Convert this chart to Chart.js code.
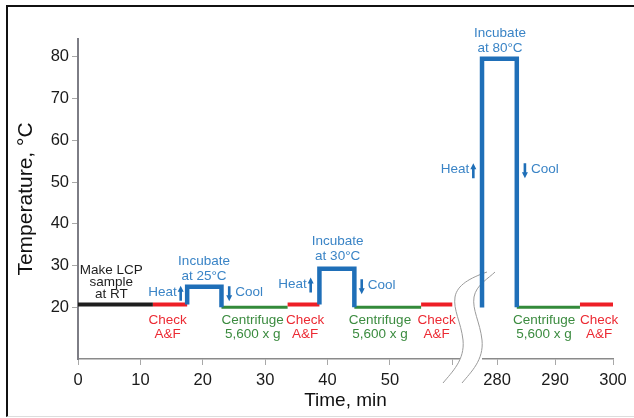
<!DOCTYPE html>
<html>
<head>
<meta charset="utf-8">
<script src="https://cdn.jsdelivr.net/npm/chart.js@4.4.0/dist/chart.umd.min.js"></script>
<style>
  html, body { margin:0; padding:0; background:#fff; }
  #wrap { position:relative; width:634px; height:418px; overflow:hidden; }
  #wrap canvas { position:absolute; left:0; top:0; }
  #frame { position:absolute; left:6px; top:5px; width:700px; height:409px;
           border-top:2px solid #111; border-left:2px solid #111; border-bottom:1px solid #ddd;
           pointer-events:none; }
</style>
</head>
<body>
<div id="wrap"><canvas id="chart" width="634" height="418"></canvas><div id="frame"></div></div>
<script>
// time in min, temperature in °C
const prepRuns  = [[0, 12]];
const checkRuns = [[12, 17.5], [33.6, 38.7], [55, 60], [294.3, 300]];
const spinRuns  = [[23, 33.6], [44.3, 55], [283.4, 294.3]];
const incubRuns = [[17.5, 23], [38.7, 44.3], [277.4, 283.4]];
const incubTemps = [25, 29.3, 79.5];
const incubStart = [20.7, 20.7, 20];
const roomTemp = 20.7;
const spinTemp = 20.1;

const timeTicks = [0, 10, 20, 30, 40, 50, 60, 280, 290, 300];
const tempTicks = [20, 30, 40, 50, 60, 70, 80];
const timeBreak = [63, 275.5];   // axis jumps from 63 to 275.5 min
const firstShare = 0.7346;       // part of the axis width used by 0..63

const BLUE = '#1f6fb8', BLUE_TXT = '#3a84c6';
const RED = '#ee1f26', RED_TXT = '#ec2a33';
const GREEN = '#338a3a', GREEN_TXT = '#3b8b3f';
const BLACK = '#1e1e1e';
const FONT = '"Liberation Sans", Arial, sans-serif';

// text labels, anchored in data units (first line centre)
const notes = [
  { lines: ['Make LCP', 'sample', 'at RT'], t: 5.34, temp: 28.98, color: BLACK, gap: 12.3 },
  { lines: ['Incubate', 'at 25°C'], t: 20.2, temp: 30.96, color: BLUE_TXT, gap: 14.4 },
  { lines: ['Incubate', 'at 30°C'], t: 41.63, temp: 35.74, color: BLUE_TXT, gap: 14.4 },
  { lines: ['Incubate', 'at 80°C'], t: 280.5, temp: 85.56, color: BLUE_TXT, gap: 15 },
  { lines: ['Check', 'A&F'], t: 14.38, temp: 16.9, color: RED_TXT, gap: 13.6 },
  { lines: ['Centrifuge', '5,600 x g'], t: 28.0, temp: 16.9, color: GREEN_TXT, gap: 13.6 },
  { lines: ['Check', 'A&F'], t: 36.39, temp: 16.9, color: RED_TXT, gap: 13.6 },
  { lines: ['Centrifuge', '5,600 x g'], t: 48.41, temp: 16.9, color: GREEN_TXT, gap: 13.6 },
  { lines: ['Check', 'A&F'], t: 57.5, temp: 16.9, color: RED_TXT, gap: 13.6 },
  { lines: ['Centrifuge', '5,600 x g'], t: 288.1, temp: 16.9, color: GREEN_TXT, gap: 13.6 },
  { lines: ['Check', 'A&F'], t: 297.6, temp: 16.9, color: RED_TXT, gap: 13.6 },
];
const arrows = [
  { dir: 'up', t: 16.46, temp: 23.4 }, { dir: 'down', t: 24.24, temp: 23.3 },
  { dir: 'up', t: 37.3, temp: 25.4 },  { dir: 'down', t: 45.48, temp: 25.0 },
  { dir: 'up', t: 275.9, temp: 52.7 }, { dir: 'down', t: 284.8, temp: 52.7 },
];

function flat(runs, temp){
  const pts = [];
  runs.forEach(([a, b]) => pts.push({x:a, y:temp}, {x:b, y:temp}, {x:b, y:null}));
  return pts;
}
function pulses(){
  const pts = [];
  incubRuns.forEach(([a, b], i) => {
    pts.push({x:a, y:incubStart[i]}, {x:a, y:incubTemps[i]}, {x:b, y:incubTemps[i]}, {x:b, y:spinTemp}, {x:b, y:null});
  });
  return pts;
}

// linear scale with a gap between timeBreak[0] and timeBreak[1]
class BrokenLinearScale extends Chart.LinearScale {
  _split(){ return this.left + (this.right - this.left) * firstShare; }
  getPixelForValue(v){
    if (v == null || isNaN(v)) return NaN;
    const s = this._split();
    if (v <= timeBreak[0]) return this.left + (v - this.min) / (timeBreak[0] - this.min) * (s - this.left);
    return s + (v - timeBreak[1]) / (this.max - timeBreak[1]) * (this.right - s);
  }
  getValueForPixel(p){
    const s = this._split();
    if (p <= s) return this.min + (p - this.left) / (s - this.left) * (timeBreak[0] - this.min);
    return timeBreak[1] + (p - s) / (this.right - s) * (this.max - timeBreak[1]);
  }
}
BrokenLinearScale.id = 'brokenLinear';
BrokenLinearScale.defaults = Chart.LinearScale.defaults;
Chart.register(BrokenLinearScale);

const breakMark = {
  id: 'breakMark',
  beforeDatasetsDraw(chart){
    const xs = chart.scales.x, ctx = chart.ctx;
    const sx = xs._split(), by = xs.top;
    ctx.save();
    ctx.fillStyle = '#fff';
    ctx.fillRect(sx - 11, by - 3, 22, 6);
    ctx.strokeStyle = '#9a9a9a'; ctx.lineWidth = 1;
    const curve = (o, top) => {
      ctx.beginPath();
      ctx.moveTo(sx - 28 + o, by + 24);
      ctx.bezierCurveTo(sx - 19 + o, by + 13, sx - 6 + o, by + 1, sx - 8 + o, by - 19);
      ctx.bezierCurveTo(sx - 10 + o, by - 37, sx - 18 + o, by - 49, sx - 16 + o, by - 62);
      ctx.bezierCurveTo(sx - 14 + o, by - 74, sx - 1 + o, by - 81, sx + top, by - 87);
      ctx.stroke();
    };
    curve(0, 16);
    curve(19, 24);
    ctx.restore();
  }
};

const notesPlugin = {
  id: 'notes',
  afterDraw(chart){
    const ctx = chart.ctx, xs = chart.scales.x, ys = chart.scales.y;
    ctx.save();
    ctx.font = '13.5px ' + FONT;
    ctx.textBaseline = 'middle';
    ctx.textAlign = 'center';
    notes.forEach(n => {
      const px = xs.getPixelForValue(n.t), py = ys.getPixelForValue(n.temp);
      ctx.fillStyle = n.color;
      n.lines.forEach((s, i) => ctx.fillText(s, px, py + i * n.gap));
    });
    arrows.forEach(a => {
      const px = xs.getPixelForValue(a.t), py = ys.getPixelForValue(a.temp);
      const h = 15, hw = 3, sw = 1.3, hh = 6;
      const dir = a.dir === 'up' ? -1 : 1;
      const tip = py + dir * h / 2, tail = py - dir * h / 2, neck = tip - dir * hh;
      ctx.fillStyle = BLUE;
      ctx.beginPath();
      ctx.moveTo(px, tip);
      ctx.lineTo(px + hw, neck);
      ctx.lineTo(px + sw, neck);
      ctx.lineTo(px + sw, tail);
      ctx.lineTo(px - sw, tail);
      ctx.lineTo(px - sw, neck);
      ctx.lineTo(px - hw, neck);
      ctx.closePath();
      ctx.fill();
      ctx.fillStyle = BLUE_TXT;
      if (a.dir === 'up') { ctx.textAlign = 'right'; ctx.fillText('Heat', px - 4, py - 1); }
      else { ctx.textAlign = 'left'; ctx.fillText('Cool', px + 6, py - 1); }
    });
    ctx.restore();
  }
};

const lineDs = (data, color, width) => ({
  data, borderColor: color, borderWidth: width, pointRadius: 0, tension: 0,
  spanGaps: false, fill: false, borderJoinStyle: 'miter', borderCapStyle: 'butt'
});

new Chart(document.getElementById('chart'), {
  type: 'line',
  data: {
    datasets: [
      lineDs(pulses(), BLUE, 4.5),
      lineDs(flat(prepRuns, roomTemp), BLACK, 4),
      lineDs(flat(checkRuns, roomTemp), RED, 4),
      lineDs(flat(spinRuns, spinTemp), GREEN, 3),
    ]
  },
  options: {
    responsive: false, animation: false, devicePixelRatio: 1,
    layout: { padding: { top: 39, right: 21, left: 0, bottom: 0 } },
    plugins: { legend: { display: false }, tooltip: { enabled: false } },
    scales: {
      x: {
        type: 'brokenLinear', min: 0, max: 300,
        afterBuildTicks: s => { s.ticks = timeTicks.map(v => ({ value: v })); },
        afterFit: s => { s.height = 59; },
        ticks: { autoSkip: false, maxRotation: 0, padding: 6, color: '#1a1a1a',
                 font: { family: FONT, size: 16.5 }, callback: v => v === 60 ? '' : v },
        grid: { drawOnChartArea: false, tickLength: 6, color: '#a8a8a8' },
        border: { color: '#8a8a8a', width: 1.5 },
        title: { display: true, text: 'Time, min', color: '#111',
                 font: { family: FONT, size: 19 }, padding: { top: 0, bottom: 6 } }
      },
      y: {
        min: 7.7, max: 84.2,
        afterBuildTicks: s => { s.ticks = tempTicks.map(v => ({ value: v })); },
        afterFit: s => { s.width = 78; },
        ticks: { padding: 3, color: '#1a1a1a', font: { family: FONT, size: 16.5 } },
        grid: { drawOnChartArea: false, tickLength: 6, color: '#a8a8a8' },
        border: { color: '#7d7d85', width: 2 },
        title: { display: true, text: 'Temperature, °C', color: '#111',
                 font: { family: FONT, size: 21 }, padding: { top: 14, bottom: 0 } }
      }
    }
  },
  plugins: [breakMark, notesPlugin]
});
</script>
</body>
</html>
